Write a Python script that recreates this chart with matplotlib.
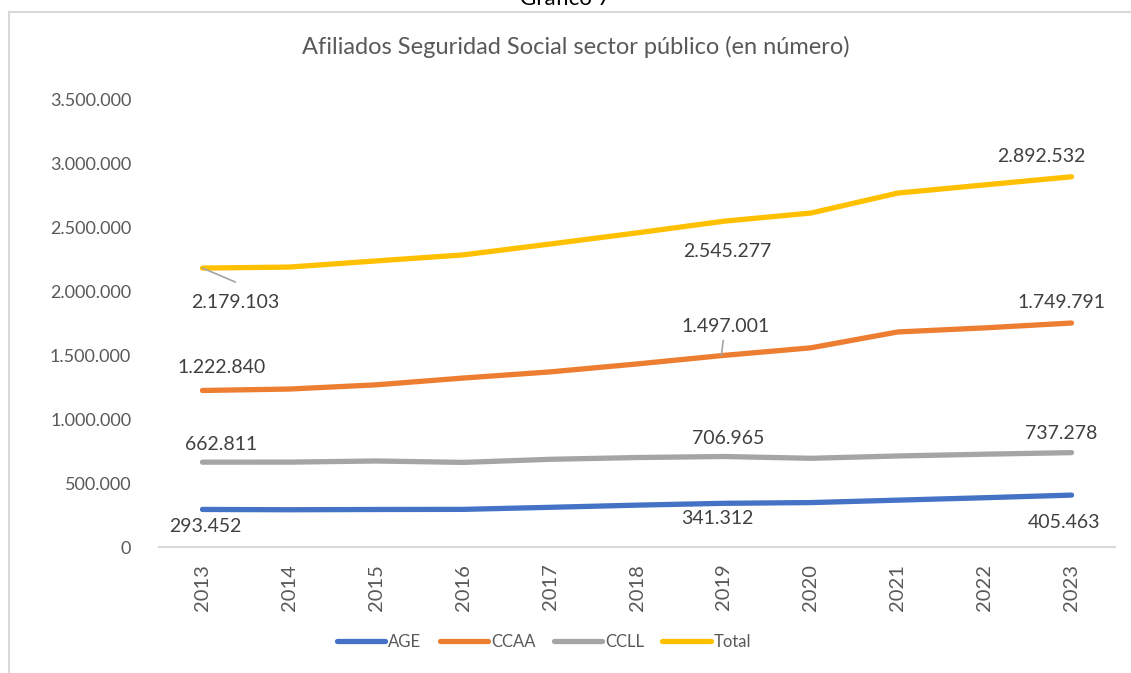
import matplotlib.pyplot as plt
from matplotlib.patches import Rectangle

years = ["2013", "2014", "2015", "2016", "2017", "2018", "2019", "2020", "2021", "2022", "2023"]
age = [293452, 291000, 293000, 294000, 310000, 327000, 341312, 347000, 366000, 385000, 405463]
ccaa = [1222840, 1234000, 1267000, 1320000, 1368000, 1430000, 1497001, 1556000, 1680000, 1712000, 1749791]
ccll = [662811, 663000, 672000, 661000, 685000, 699000, 706965, 693000, 711000, 725000, 737278]
total = [2179103, 2187000, 2235000, 2282000, 2367000, 2454000, 2545277, 2609000, 2765000, 2829000, 2892532]

series = [("AGE", age, "#4472C4"), ("CCAA", ccaa, "#ED7D31"),
          ("CCLL", ccll, "#A5A5A5"), ("Total", total, "#FFC000")]

# labelled points: (series values, index, dx px, dy px, leader line)
labels = [
    (total, 0, 33, -34, True), (total, 6, 3, -30, False), (total, 10, -30, 20, False),
    (ccaa, 0, 19, 23, False), (ccaa, 6, 2, 29, True), (ccaa, 10, -10, 21, False),
    (ccll, 0, 19, 18, False), (ccll, 6, 4, 18, False), (ccll, 10, -10, 19, False),
    (age, 0, 3, -17, False), (age, 6, -7, -15, False), (age, 10, -8, -27, False),
]

plt.rcParams["font.family"] = ["Lato", "DejaVu Sans"]

fig = plt.figure(figsize=(11.31, 6.73), dpi=100)
ax = fig.add_axes([159 / 1131, 126 / 673, 956 / 1131, 448 / 673])

x = list(range(len(years)))
for name, vals, col in series:
    ax.plot(x, vals, color=col, lw=3.8, solid_capstyle="round", solid_joinstyle="round", label=name)

def fmt(v):
    return f"{v:,}".replace(",", ".")

for vals, i, dx, dy, lead in labels:
    ax.annotate(fmt(vals[i]), (i, vals[i]), xytext=(dx, dy), textcoords="offset pixels",
                ha="center", va="center", fontsize=14, color="#404040")
    if lead:
        if dy < 0:
            ax.annotate("", (i, vals[i]), xytext=(dx, dy + 20), textcoords="offset pixels",
                        arrowprops=dict(arrowstyle="-", color="#A5A5A5", lw=1.2, shrinkA=0, shrinkB=0))
        else:
            ax.annotate("", (i - 0.03, vals[i]), xytext=(dx, dy - 14), textcoords="offset pixels",
                        arrowprops=dict(arrowstyle="-", color="#A5A5A5", lw=1.2, shrinkA=0, shrinkB=0))

ax.set_xlim(-0.5, 10.5)
ax.set_ylim(0, 3500000)
ax.set_yticks(range(0, 3500001, 500000))
ax.set_yticklabels([fmt(v) for v in range(0, 3500001, 500000)])
ax.set_xticks(x)
ax.set_xticklabels(years, rotation=90)
ax.tick_params(length=0, labelcolor="#595959")
ax.tick_params(axis="y", pad=20, labelsize=13)
ax.tick_params(axis="x", pad=12, labelsize=14.5)
for s in ["top", "right", "left"]:
    ax.spines[s].set_visible(False)
ax.spines["bottom"].set_color("#D9D9D9")
ax.spines["bottom"].set_linewidth(1.5)

ax.legend(loc="center", bbox_to_anchor=(544 / 1131, 31 / 673), bbox_transform=fig.transFigure,
          ncol=4, frameon=False, fontsize=12, handlelength=2.9, handletextpad=0.18,
          columnspacing=1.1, labelcolor="#595959")

fig.text(576 / 1131, 1 - 47 / 673, "Afiliados Seguridad Social sector público (en número)",
         ha="center", va="center", fontsize=17, color="#595959")
fig.text(565 / 1131, 1 + 1 / 673, "Gráfico 7", ha="center", va="center", fontsize=16, color="#000000")

fig.patches.append(Rectangle((9 / 1131, -0.1), 1.2, 1.1 - 12 / 673, transform=fig.transFigure,
                             fill=False, edgecolor="#D9D9D9", lw=1.5))

fig.savefig("out.png", dpi=100)
